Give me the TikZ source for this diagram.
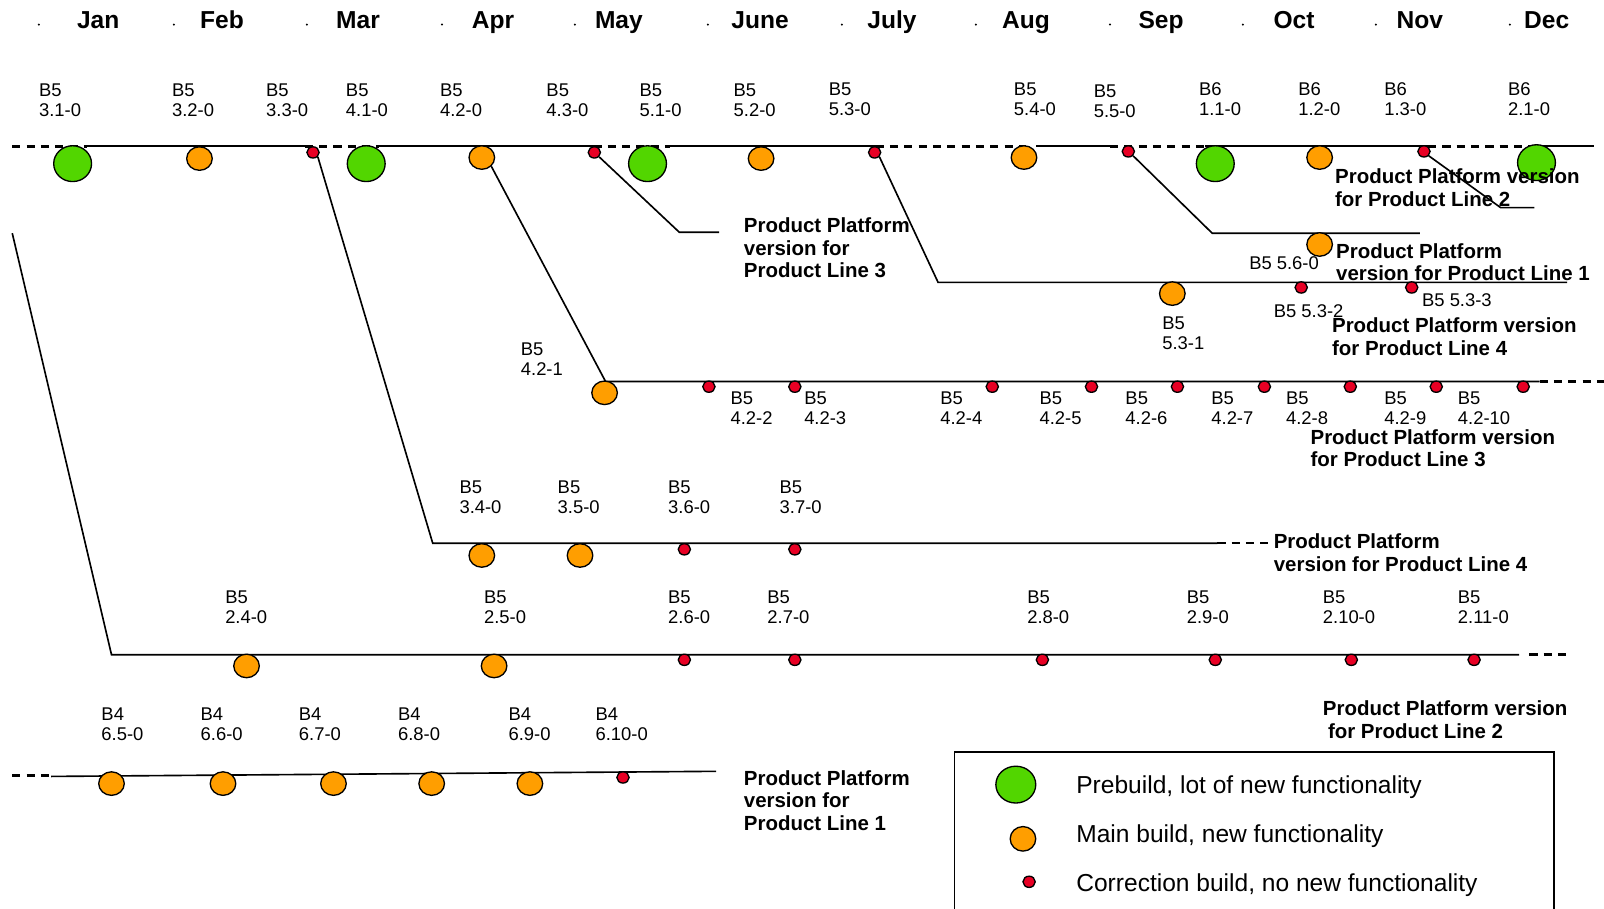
\documentclass[tikz,border=0pt]{standalone}
\usepackage{fontspec}
\setmainfont{Liberation Sans}
\usetikzlibrary{shapes.geometric}
\definecolor{pgreen}{RGB}{82,214,0}
\definecolor{porange}{RGB}{255,158,0}
\definecolor{pred}{RGB}{232,0,36}
\begin{document}
\begin{tikzpicture}[x=1pt,y=-1pt,
  build/.style={ellipse,draw=black,line width=1.3pt,inner sep=0pt},
  prebuild/.style={build,fill=pgreen,minimum width=37pt,minimum height=35pt},
  mainbuild/.style={build,fill=porange,minimum width=25pt,minimum height=23pt},
  corrbuild/.style={build,fill=pred,minimum width=12pt,minimum height=11pt},
  track/.style={line width=1.6pt},
  trackdash/.style={line width=2.4pt,dash pattern=on 8pt off 6pt},
  month/.style={font=\bfseries\fontsize{24}{26}\selectfont,anchor=base,inner sep=0pt},
  blabel/.style={font=\fontsize{18}{19.5}\selectfont,align=left,anchor=north west,inner sep=0pt},
  plabel/.style={font=\bfseries\fontsize{20}{22}\selectfont,align=left,anchor=north west,inner sep=0pt},
  legtext/.style={font=\fontsize{24}{26}\selectfont,anchor=base west,inner sep=0pt}]
\useasboundingbox (0,0) rectangle (1568,888);

% month header with tick dots
\foreach \m/\x/\d in {Jan/96/38,Feb/217/170,Mar/350/300,Apr/482/432,May/605/562,June/743/692,
  July/872/823,Aug/1003/954,Sep/1135/1085,Oct/1265/1215,Nov/1388/1345,Dec/1512/1476}{
  \node[month] (m-\m) at (\x,27.6) {\m};
  \fill (\d,24) circle (1.1pt);
}

% ---------- main track (B5/B6) ----------
\foreach \n/\x in {0/12,1/85,2/298,3/370,4/580,5/655,6/856,7/1003,8/1013,9/1085,10/1178,11/1396,12/1494,13/1558}
  \coordinate (t\n) at (\x,143);
\draw[trackdash] (t0) -- (t1);
\draw[track] (t1) -- (t2);
\draw[trackdash] (t2) -- (t3);
\draw[track] (t3) -- (t4);
\draw[trackdash] (t4) -- (t5);
\draw[track] (t5) -- (t6);
\draw[trackdash] (t6) -- (t7);
\draw[track] (t8) -- (t9);
\draw[trackdash] (t9) -- (t10);
\draw[track] (t10) -- (t11);
\draw[trackdash] (t11) -- (t12);
\draw[track] (t12) -- (t13);

% branch corners
\coordinate (k31) at (423,531);  \coordinate (k32) at (1190,531); \coordinate (k33) at (1242,531);
\coordinate (k41) at (592,373);  \coordinate (k42) at (1505,373); \coordinate (k43) at (1568,373);
\coordinate (k51) at (664,227);  \coordinate (k52) at (703,227);
\coordinate (k61) at (917,276);  \coordinate (k62) at (1532,276);
\coordinate (k71) at (1185,228); \coordinate (k72) at (1388,228);
\coordinate (k81) at (1467,203); \coordinate (k82) at (1500,203);
\coordinate (l0) at (12,228);    \coordinate (l1) at (109,640);
\coordinate (l2) at (1485,640);  \coordinate (l3) at (1495,640); \coordinate (l4) at (1532,640);
\coordinate (q0) at (12,758);    \coordinate (q1) at (50,758);
\coordinate (q2) at (50,759);    \coordinate (q3) at (700,754);

% builds on the main track
\node[prebuild]  (b31) at (71,160) {};
\node[mainbuild] (b32) at (195,155) {};
\node[corrbuild] (b33) at (306,149) {};
\node[prebuild]  (b41) at (358,160) {};
\node[mainbuild] (b42) at (471,154) {};
\node[corrbuild] (b43) at (581,149) {};
\node[prebuild]  (b51) at (633,160) {};
\node[mainbuild] (b52) at (744,155) {};
\node[corrbuild] (b53) at (855,149) {};
\node[mainbuild] (b54) at (1001,154) {};
\node[corrbuild] (b55) at (1103,148) {};
\node[prebuild]  (c11) at (1188,160) {};
\node[mainbuild] (c12) at (1290,154) {};
\node[corrbuild] (c13) at (1392,148) {};
\node[prebuild]  (c21) at (1502,159) {};

% branch lines
\draw[track] (b33.south east) -- (k31) -- (k32);
\draw[trackdash,line width=1.6pt] (k32) -- (k33);
\draw[track] (b42.south east) -- (k41) -- (k42);
\draw[trackdash] (k42) -- (k43);
\draw[track] (b43.south east) -- (k51) -- (k52);
\draw[track] (b53.south east) -- (k61) -- (k62);
\draw[track] (b55.south east) -- (k71) -- (k72);
\draw[track] (c13.south east) -- (k81) -- (k82);
\draw[track] (l0) -- (l1) -- (l2);
\draw[trackdash] (l3) -- (l4);
\draw[trackdash] (q0) -- (q1);
\draw[track] (q2) -- (q3);

% branch builds
\node[mainbuild] (b421) at (591,384) {};
\foreach \i/\x in {2/693,3/777,4/970,5/1067,6/1151,7/1236,8/1320,9/1404,10/1489}
  \node[corrbuild] (b42-\i) at (\x,378) {};
\node[mainbuild] (b34) at (471,543) {};
\node[mainbuild] (b35) at (567,543) {};
\node[corrbuild] (b36) at (669,537) {};
\node[corrbuild] (b37) at (777,537) {};
\node[mainbuild] (b531) at (1146,287) {};
\node[corrbuild] (b532) at (1272,281) {};
\node[corrbuild] (b533) at (1380,281) {};
\node[mainbuild] (b56) at (1290,239) {};
\node[mainbuild] (b24) at (241,651) {};
\node[mainbuild] (b25) at (483,651) {};
\foreach \i/\x in {6/669,7/777,8/1019,9/1188,10/1321,11/1441}
  \node[corrbuild] (b2-\i) at (\x,645) {};
\node[mainbuild] (a65) at (109,766) {};
\node[mainbuild] (a66) at (218,766) {};
\node[mainbuild] (a67) at (326,766) {};
\node[mainbuild] (a68) at (422,766) {};
\node[mainbuild] (a69) at (518,766) {};
\node[corrbuild] (a610) at (609,760) {};

% build labels
\foreach \v/\x/\y [count=\k] in {B5\\3.1-0/38/88, B5\\3.2-0/168/88, B5\\3.3-0/260/88, B5\\4.1-0/338/88,
  B5\\4.2-0/430/88, B5\\4.3-0/534/88, B5\\5.1-0/625/88, B5\\5.2-0/717/88, B5\\5.3-0/810/87,
  B5\\5.4-0/991/87, B5\\5.5-0/1069/89, B6\\1.1-0/1172/87, B6\\1.2-0/1269/87, B6\\1.3-0/1353/87,
  B6\\2.1-0/1474/87}
  \node[blabel] (lt\k) at (\x,\y-6.3) {\v};
\node[blabel] (l421) at (509,341-6.3) {B5\\4.2-1};
\foreach \v/\x [count=\k] in {4.2-2/714,4.2-3/786,4.2-4/919,4.2-5/1016,4.2-6/1100,4.2-7/1184,
  4.2-8/1257,4.2-9/1353,4.2-10/1425}
  \node[blabel] (lc\k) at (\x,389-6.3) {B5\\\v};
\foreach \v/\x [count=\k] in {3.4-0/449,3.5-0/545,3.6-0/653,3.7-0/762}
  \node[blabel] (ld\k) at (\x,476-6.3) {B5\\\v};
\foreach \v/\x [count=\k] in {2.4-0/220,2.5-0/473,2.6-0/653,2.7-0/750,2.8-0/1004,2.9-0/1160,
  2.10-0/1293,2.11-0/1425}
  \node[blabel] (le\k) at (\x,584-6.3) {B5\\\v};
\foreach \v/\x [count=\k] in {6.5-0/99,6.6-0/196,6.7-0/292,6.8-0/389,6.9-0/497,6.10-0/582}
  \node[blabel] (lf\k) at (\x,698-6.3) {B4\\\v};
\node[blabel] (l56) at (1221,257-6.3) {B5 5.6-0};
\node[blabel] (l532) at (1245,304-6.3) {B5 5.3-2};
\node[blabel] (l533) at (1390,293-6.3) {B5 5.3-3};
\node[blabel] (l531) at (1136,316-6.3) {B5\\5.3-1};

% product line captions
\node[plabel] (p3a) at (727,220-7.2) {Product Platform\\version for\\Product Line 3};
\node[plabel] (p2a) at (1305,172-7.2) {Product Platform version\\for Product Line 2};
\node[plabel] (p1a) at (1306,245-7.2) {Product Platform\\version for Product Line 1};
\node[plabel] (p4a) at (1302,318-7.2) {Product Platform version\\for Product Line 4};
\node[plabel] (p3b) at (1281,427-7.2) {Product Platform version\\for Product Line 3};
\node[plabel] (p4b) at (1245,529-7.2) {Product Platform\\version for Product Line 4};
\node[plabel] (p2b) at (1293,692-7.2) {Product Platform version\\\hspace*{5pt}for Product Line 2};
\node[plabel] (p1b) at (727,760-7.2) {Product Platform\\version for\\Product Line 1};

% legend
\draw[line width=1.8pt] (933,735) rectangle (1519,900);
\node[prebuild,minimum width=39pt,minimum height=36pt] (g1) at (993,767) {};
\node[mainbuild,minimum width=25pt,minimum height=24pt] (g2) at (1000,820) {};
\node[corrbuild] (g3) at (1006,862) {};
\node[legtext] (gt1) at (1052,767+8.6) {Prebuild, lot of new functionality};
\node[legtext] (gt2) at (1052,815+8.6) {Main build, new functionality};
\node[legtext] (gt3) at (1052,863+8.6) {Correction build, no new functionality};
\end{tikzpicture}
\end{document}
